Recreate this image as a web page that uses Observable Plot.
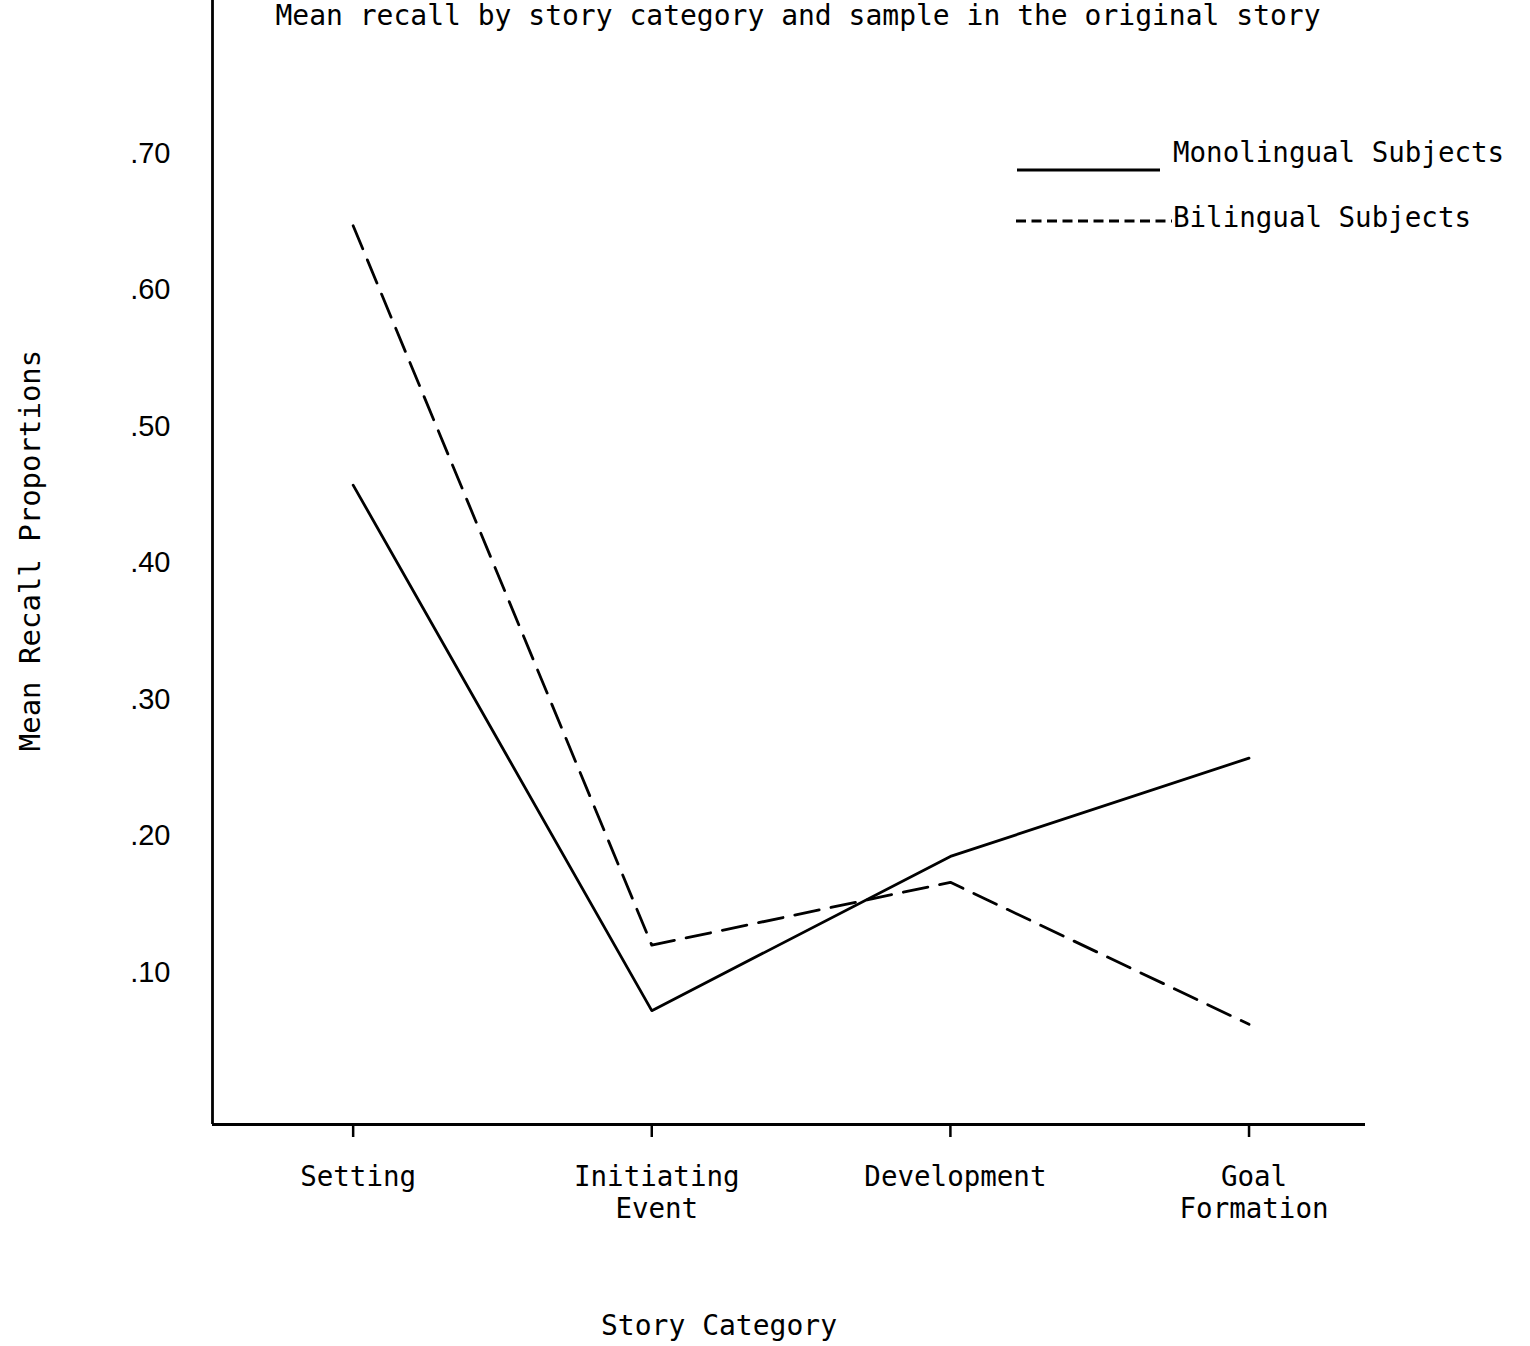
<!DOCTYPE html>
<html>
<head>
<meta charset="utf-8">
<script src="https://cdn.jsdelivr.net/npm/d3@7"></script>
<script src="https://cdn.jsdelivr.net/npm/@observablehq/plot@0.6"></script>
<style>
  html, body { margin: 0; padding: 0; background: #fff; }
  #wrap { position: relative; width: 1530px; height: 1346px; background: #fff; }
  #legend { position: absolute; left: 0; top: 0; pointer-events: none; }
</style>
</head>
<body>
<div id="wrap"></div>
<script>
// ---- Data ----
const categories = ["Setting", "Initiating Event", "Development", "Goal Formation"];
const tickLabels = ["Setting", "Initiating\nEvent", "Development", "Goal\nFormation"];
const seriesNames = ["Monolingual Subjects", "Bilingual Subjects"];
const monolingual = [0.457, 0.072, 0.185, 0.257];
const bilingual = [0.647, 0.120, 0.166, 0.062];
const yTicks = [0.10, 0.20, 0.30, 0.40, 0.50, 0.60, 0.70];
const yTickLabels = [".10", ".20", ".30", ".40", ".50", ".60", ".70"];

const titleText = "Mean recall by story category and sample in the original story";
const xTitle = "Story Category";
const yTitle = "Mean Recall Proportions";

// ---- Table ----
const monoData = categories.map((c, i) => ({i, category: c, series: seriesNames[0], value: monolingual[i]}));
const biData = categories.map((c, i) => ({i, category: c, series: seriesNames[1], value: bilingual[i]}));

const mono = "DejaVu Sans Mono, monospace";
const xDomain = [-0.471, 3.39];
const yDomain = [-0.0114, 0.812];
const xTickIdx = categories.map((c, i) => i);

const chart = Plot.plot({
  width: 1530,
  height: 1346,
  marginLeft: 212,
  marginRight: 165,
  marginTop: 0,
  marginBottom: 222,
  style: {background: "#fff", color: "#000", overflow: "visible"},
  x: {type: "linear", domain: xDomain, axis: null},
  y: {type: "linear", domain: yDomain, axis: null},
  marks: [
    // tick marks
    Plot.axisX({ticks: xTickIdx, tickSize: 13, strokeWidth: 2.5, text: null, label: null}),
    // tick labels
    Plot.axisX({
      ticks: xTickIdx,
      tickFormat: i => tickLabels[i],
      tickSize: 0,
      tickPadding: 39,
      fontSize: 27.5,
      fontFamily: mono,
      lineHeight: 1.16,
      dx: 5,
      label: null
    }),
    Plot.axisY({
      ticks: yTicks,
      tickFormat: (d, i) => yTickLabels[i],
      tickSize: 0,
      tickPadding: 42,
      fontSize: 29,
      fontFamily: "Liberation Sans, Arial, sans-serif",
      label: null
    }),
    Plot.ruleY([yDomain[0]], {stroke: "#000", strokeWidth: 2.8}),
    Plot.ruleX([xDomain[0]], {stroke: "#000", strokeWidth: 2.8}),
    Plot.line(monoData, {x: "i", y: "value", stroke: "#000", strokeWidth: 2.8}),
    Plot.line(biData, {x: "i", y: "value", stroke: "#000", strokeWidth: 2.8, strokeDasharray: "25,12"}),
    Plot.text([titleText], {frameAnchor: "top", textAnchor: "middle", lineAnchor: "middle", dx: 9, dy: 16, fontSize: 28, fontFamily: mono, fill: "#000"}),
    Plot.text([xTitle], {frameAnchor: "bottom", textAnchor: "middle", lineAnchor: "middle", dx: -70, dy: 202, fontSize: 28, fontFamily: mono, fill: "#000"}),
    Plot.text([yTitle], {frameAnchor: "left", textAnchor: "middle", lineAnchor: "middle", dx: -182, dy: -12, rotate: -90, fontSize: 29, fontFamily: mono, fill: "#000"})
  ]
});

const wrap = document.getElementById("wrap");
wrap.appendChild(chart);

// ---- Legend (HTML overlay) ----
const ns = "http://www.w3.org/2000/svg";
const leg = document.createElementNS(ns, "svg");
leg.setAttribute("id", "legend");
leg.setAttribute("width", 1530);
leg.setAttribute("height", 300);
const rows = [
  {name: seriesNames[0], dash: null, x1: 1017, x2: 1160, ly: 170, ty: 162},
  {name: seriesNames[1], dash: "10,5.5", x1: 1016, x2: 1172, ly: 221, ty: 227}
];
rows.forEach(r => {
  const l = document.createElementNS(ns, "line");
  l.setAttribute("x1", r.x1); l.setAttribute("x2", r.x2);
  l.setAttribute("y1", r.ly); l.setAttribute("y2", r.ly);
  l.setAttribute("stroke", "#000"); l.setAttribute("stroke-width", 2.8);
  if (r.dash) l.setAttribute("stroke-dasharray", r.dash);
  leg.appendChild(l);
  const t = document.createElementNS(ns, "text");
  t.setAttribute("x", 1173); t.setAttribute("y", r.ty);
  t.setAttribute("font-family", mono); t.setAttribute("font-size", 27.5);
  t.setAttribute("fill", "#000");
  t.textContent = r.name;
  leg.appendChild(t);
});
wrap.appendChild(leg);
</script>
</body>
</html>
